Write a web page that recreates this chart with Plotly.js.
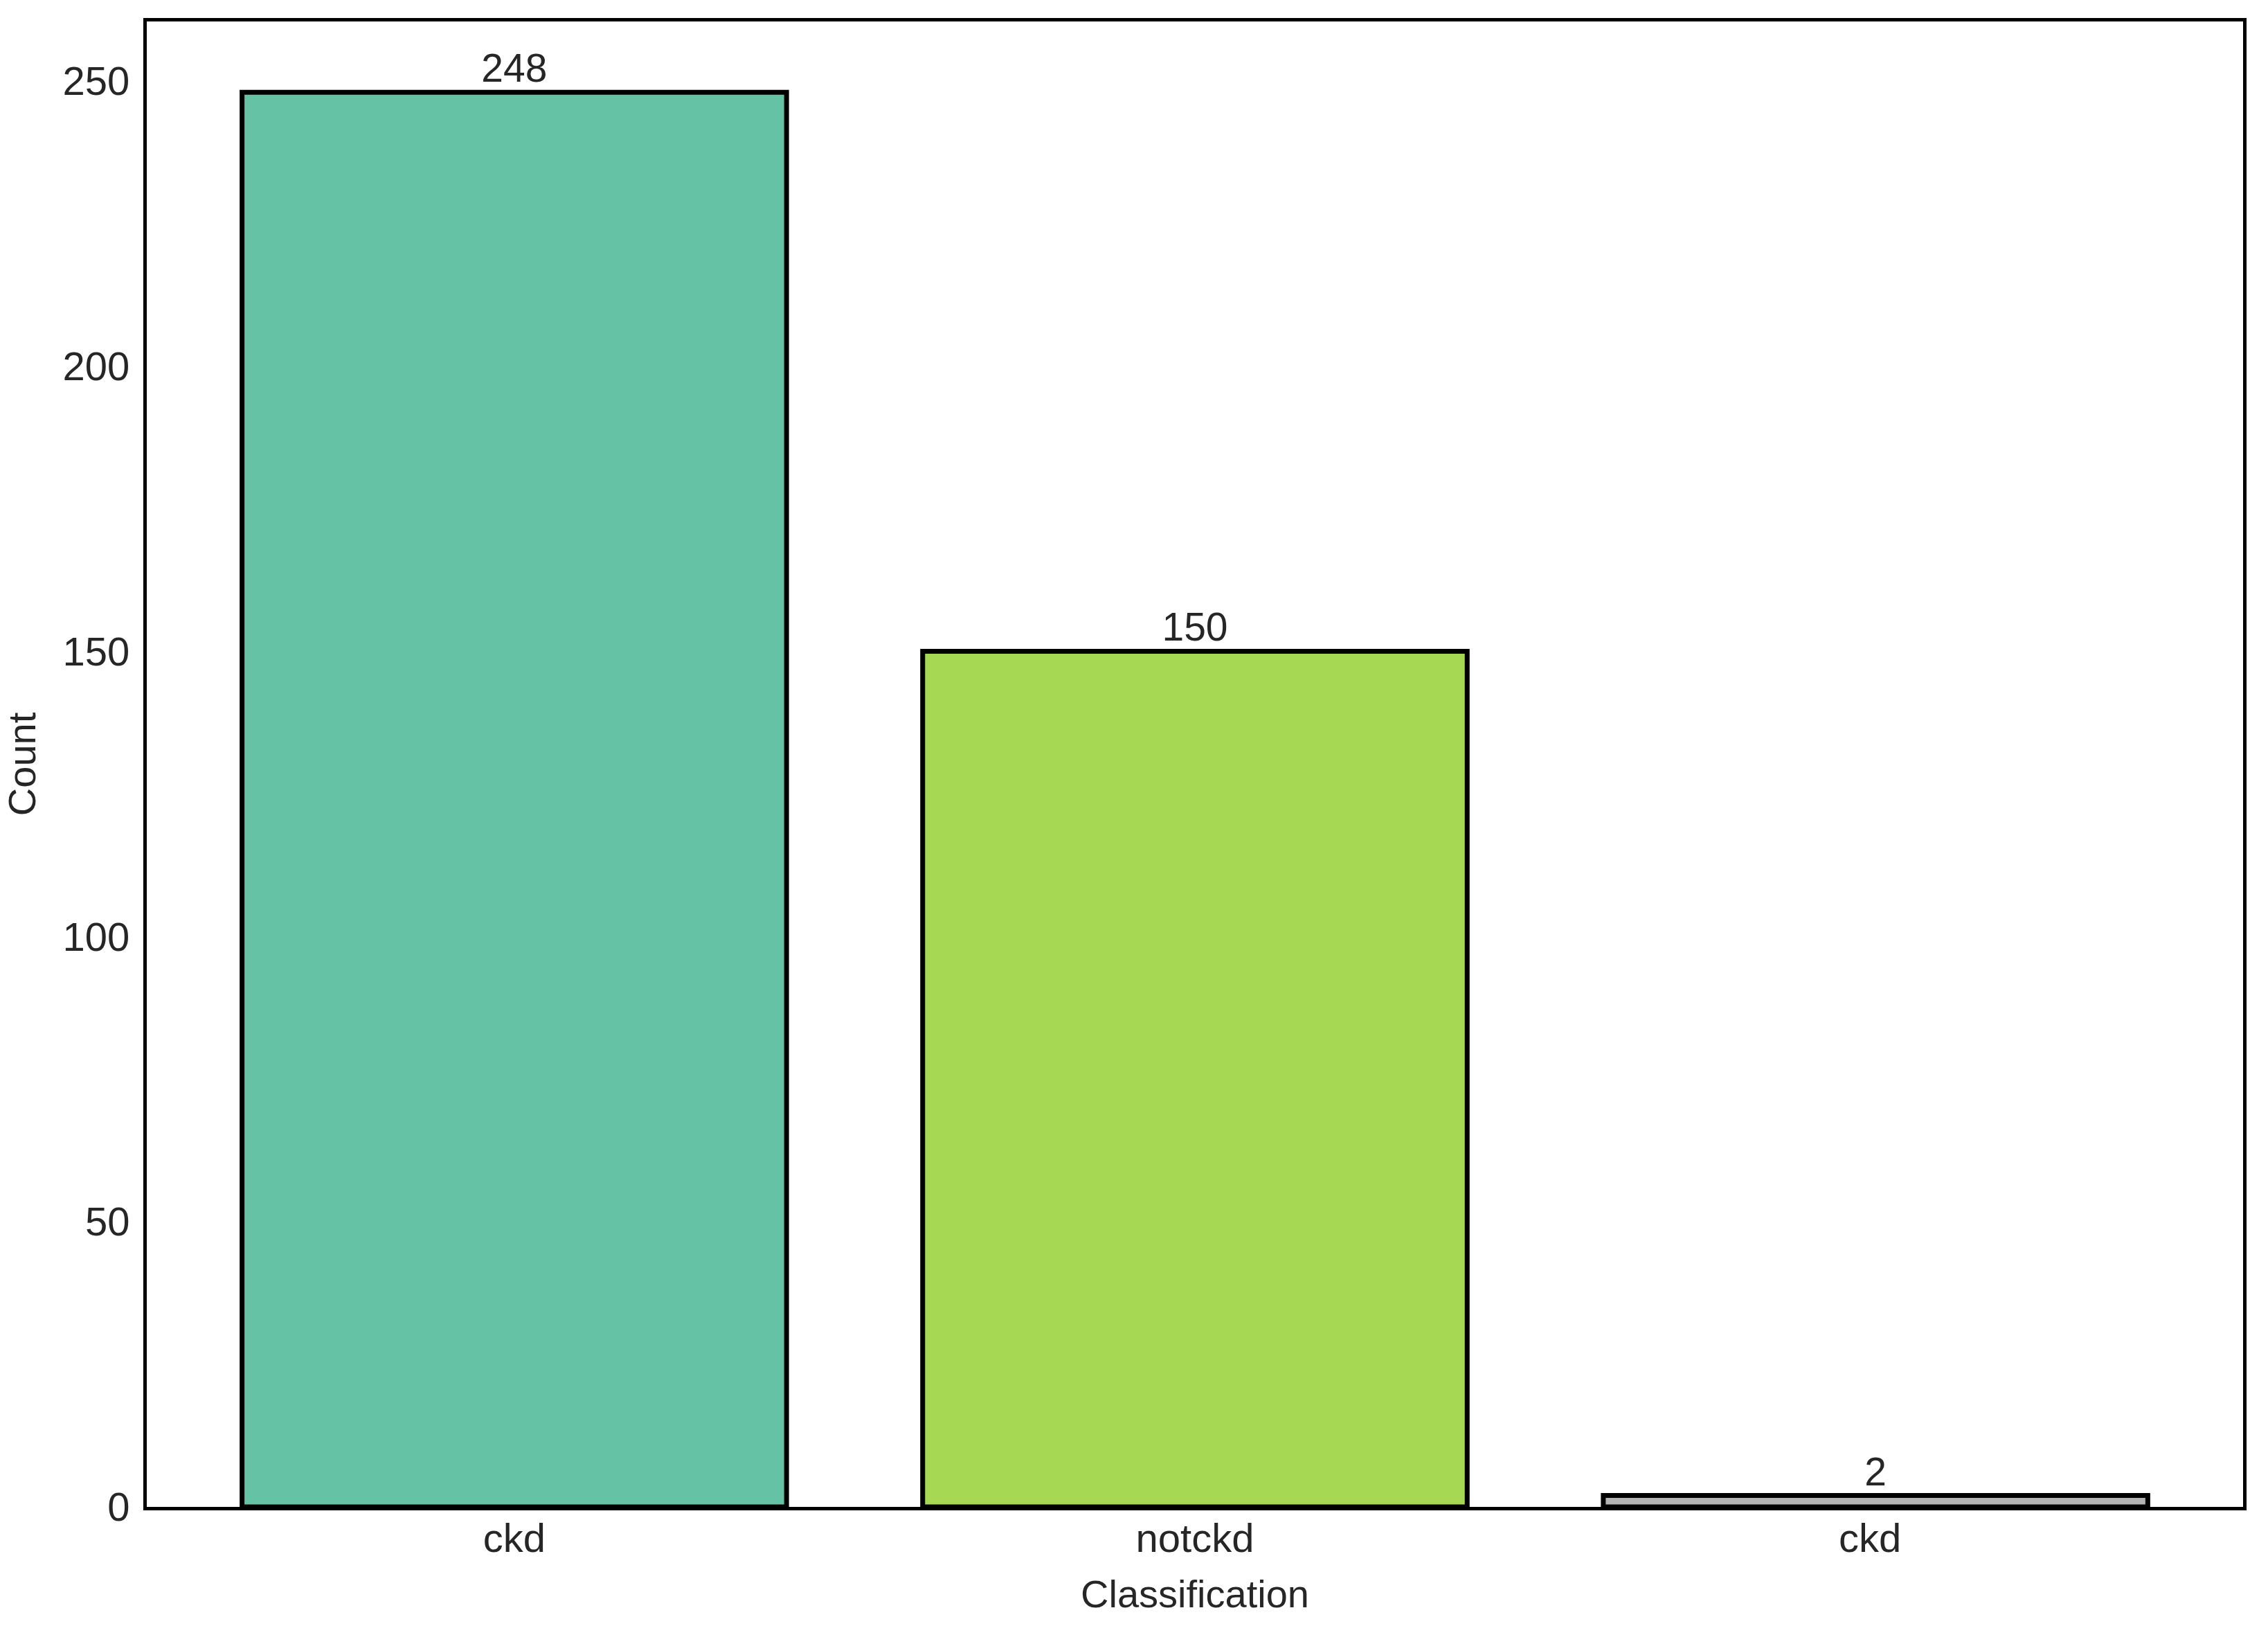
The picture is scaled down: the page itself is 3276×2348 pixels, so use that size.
<!DOCTYPE html>
<html>
<head>
<meta charset="utf-8">
<script src="https://cdn.plot.ly/plotly-3.0.1.min.js"></script>
<style>html,body{margin:0;padding:0;background:#fff;}</style>
</head>
<body>
<div id="chart" style="width:3276px;height:2348px;"></div>
<script>
// Data
const categories = ["ckd", "notckd", "ckd\t"];
const counts = [248, 150, 2];
const barColors = ["#66c2a5", "#a6d854", "#b3b3b3"];

const textColor = "#262626";
const fontFamily = "Liberation Sans, Arial, sans-serif";

const trace = {
  type: "bar",
  x: categories,
  y: counts,
  width: 0.8,
  marker: { color: barColors, line: { color: "#000000", width: 7 } },
  text: counts.map(String),
  textposition: "outside",
  textfont: { family: fontFamily, size: 57, color: textColor },
  cliponaxis: false,
  hoverinfo: "x+y"
};

const layout = {
  width: 3276,
  height: 2348,
  paper_bgcolor: "#ffffff",
  plot_bgcolor: "#ffffff",
  margin: { l: 212, r: 36, t: 31, b: 172, pad: 0 },
  showlegend: false,
  font: { family: fontFamily, size: 57, color: textColor },
  bargap: 0.2,
  xaxis: {
    type: "category",
    range: [-0.54, 2.54],
    showline: true,
    linecolor: "#000000",
    linewidth: 5,
    mirror: true,
    showgrid: false,
    zeroline: false,
    ticks: "",
    ticklabelstandoff: -10,
    tickfont: { family: fontFamily, size: 58, color: textColor },
    title: { text: "Classification", font: { family: fontFamily, size: 56, color: textColor }, standoff: 32 },
    automargin: true
  },
  yaxis: {
    range: [0, 260.4],
    tickvals: [0, 50, 100, 150, 200, 250],
    showline: true,
    linecolor: "#000000",
    linewidth: 5,
    mirror: true,
    showgrid: false,
    zeroline: false,
    ticks: "",
    ticklabelstandoff: 8,
    tickfont: { family: fontFamily, size: 58, color: textColor },
    title: { text: "Count", font: { family: fontFamily, size: 56, color: textColor }, standoff: 26 },
    automargin: true
  }
};

Plotly.newPlot("chart", [trace], layout, { displayModeBar: false, staticPlot: true });
</script>
</body>
</html>
